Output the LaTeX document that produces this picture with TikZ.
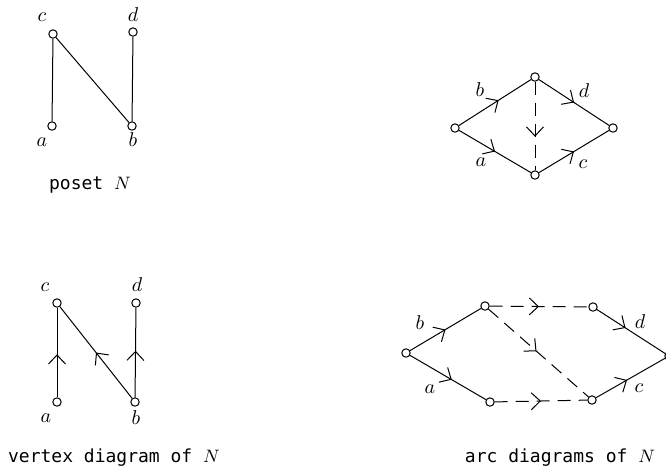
\documentclass[tikz,border=0pt]{standalone}
\usepackage{fontspec}
\newfontfamily\capfont{DejaVu Sans Mono}
\usetikzlibrary{arrows.meta,decorations.markings}
\tikzset{
  vtx/.style={circle,draw,fill=white,line width=0.5pt,inner sep=0pt,minimum size=4.2pt},
  lbl/.style={font=\normalsize,inner sep=1pt},
  ln/.style={line width=0.5pt},
  dsh/.style={line width=0.5pt,dash pattern=on 6.5pt off 4pt},
  mid/.style={postaction={decorate},
              decoration={markings,mark=at position #1 with {\arrow{Straight Barb[length=4.5pt,width=8.5pt,line width=0.5pt]}}}},
  mid/.default=0.5,
  captxt/.style={font=\capfont\small,inner sep=0pt}
}

\begin{document}
\begin{tikzpicture}[x=0.5pt,y=-0.5pt]
  \clip (0,0) rectangle (666,468);
  % poset N
  \node[vtx] (pc) at (53,34) {};
  \node[vtx] (pd) at (133,32) {};
  \node[vtx] (pa) at (52,126) {};
  \node[vtx] (pb) at (132,126) {};
  \node[lbl] (lpc) at (42,17) {$c$};
  \node[lbl] (lpd) at (133,15) {$d$};
  \node[lbl] (lpa) at (42,142) {$a$};
  \node[lbl] (lpb) at (133,140) {$b$};
  \draw[ln] (pa) -- (pc);
  \draw[ln] (pb) -- (pc);
  \draw[ln] (pb) -- (pd);
  \node[captxt] (cap1) at (90,185) {poset $N$};

  % vertex diagram
  \node[vtx] (vc) at (57,303) {};
  \node[vtx] (vd) at (136,303) {};
  \node[vtx] (va) at (57,402) {};
  \node[vtx] (vb) at (135,402) {};
  \node[lbl] (lvc) at (45,287) {$c$};
  \node[lbl] (lvd) at (137,285) {$d$};
  \node[lbl] (lva) at (46,418) {$a$};
  \node[lbl] (lvb) at (136,418) {$b$};
  \draw[ln,mid=0.48] (va) -- (vc);
  \draw[ln,mid=0.5] (vb) -- (vc);
  \draw[ln,mid=0.52] (vb) -- (vd);
  \node[captxt] (cap2) at (114,458) {vertex diagram of $N$};

  % arc diagram, first
  \node[vtx] (al) at (455,128) {};
  \node[vtx] (at) at (535,77) {};
  \node[vtx] (ar) at (613,128) {};
  \node[vtx] (ab) at (535,175) {};
  \node[lbl] (lab) at (480,90) {$b$};
  \node[lbl] (lad) at (584,91) {$d$};
  \node[lbl] (laa) at (481,162) {$a$};
  \node[lbl] (lac) at (583,164) {$c$};
  \draw[ln,mid=0.55] (al) -- (at);
  \draw[ln,mid=0.5] (al) -- (ab);
  \draw[ln,mid=0.5] (at) -- (ar);
  \draw[ln,mid=0.5] (ab) -- (ar);
  \draw[dsh,mid=0.62] (at) -- (ab);

  % arc diagram, second
  \node[vtx] (bl) at (406,353) {};
  \node[vtx] (bt) at (485,306) {};
  \node[vtx] (btr) at (593,307) {};
  \node[vtx] (bb) at (490,402) {};
  \node[vtx] (bbr) at (592,400) {};
  \node[vtx] (br) at (669,356) {};
  \node[lbl] (lbb) at (420,323) {$b$};
  \node[lbl] (lba) at (430,389) {$a$};
  \node[lbl] (lbd) at (640,322) {$d$};
  \node[lbl] (lbc) at (639,388) {$c$};
  \draw[ln,mid=0.5] (bl) -- (bt);
  \draw[ln,mid=0.55] (bl) -- (bb);
  \draw[ln,mid=0.42] (btr) -- (br);
  \draw[ln,mid=0.45] (bbr) -- (br);
  \draw[dsh,mid=0.5] (bt) -- (btr);
  \draw[dsh,mid=0.5] (bb) -- (bbr);
  \draw[dsh,mid=0.48] (bt) -- (bbr);
  \node[captxt] (cap3) at (560,458) {arc diagrams of $N$};
\end{tikzpicture}
\end{document}
